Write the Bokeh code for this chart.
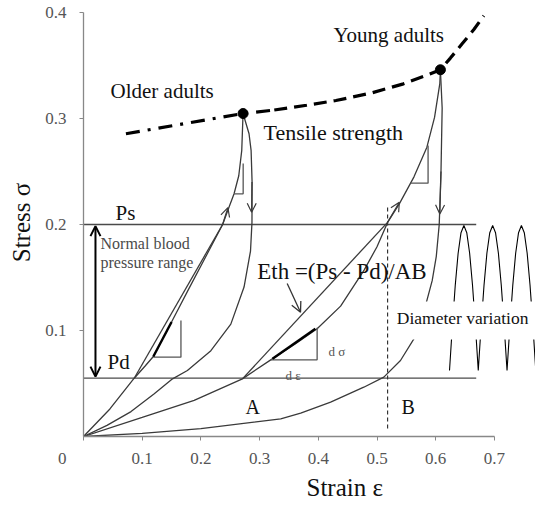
from math import pi
from bokeh.plotting import figure
from bokeh.models import Range1d, FixedTicker, Label, Arrow, OpenHead, Title
from bokeh.embed import file_html
from bokeh.resources import INLINE

# ---------------- data ----------------
x_ticks = [0.0, 0.1, 0.2, 0.3, 0.4, 0.5, 0.6, 0.7]
y_ticks = [0.1, 0.2, 0.3, 0.4]
origin_label = "0" + "\u00a0" * 10   # the origin's "0" sits left of the axis corner

ps_level = 0.2
pd_level = 0.055
level_x = [0.0, 0.669]
b_strain = 0.518
b_y = [0.0075, 0.216]

older_load_x = [0.0, 0.045, 0.0864, 0.105, 0.119, 0.15, 0.18, 0.21, 0.237, 0.248, 0.2565, 0.2645, 0.2696, 0.2718]
older_load_y = [0.0, 0.026, 0.055, 0.0665, 0.0755, 0.108, 0.14, 0.1715, 0.2, 0.2165, 0.229, 0.246, 0.27, 0.3047]
older_secant_x = [0.0864, 0.237]
older_secant_y = [0.055, 0.2]
older_unload_x = [0.2718, 0.282, 0.2855, 0.2872, 0.287, 0.2845, 0.2735, 0.251, 0.217, 0.177, 0.1517, 0.12, 0.081, 0.04, 0.0]
older_unload_y = [0.3047, 0.2856, 0.27, 0.24, 0.202, 0.175, 0.141, 0.106, 0.081, 0.0623, 0.0544, 0.04, 0.0235, 0.0105, 0.0]

young_load_x = [0.0, 0.1, 0.1885, 0.2707, 0.319, 0.36, 0.398, 0.438, 0.478, 0.5, 0.518, 0.538, 0.563, 0.585, 0.598, 0.607, 0.608]
young_load_y = [0.0, 0.018, 0.034, 0.0544, 0.0723, 0.087, 0.1016, 0.123, 0.157, 0.179, 0.202, 0.2195, 0.245, 0.273, 0.301, 0.333, 0.346]
young_secant_x = [0.2707, 0.518]
young_secant_y = [0.0544, 0.202]
young_unload_x = [0.608, 0.611, 0.609, 0.606, 0.601, 0.594, 0.58, 0.566, 0.54, 0.5116, 0.4775, 0.421, 0.37, 0.336, 0.2, 0.1, 0.0]
young_unload_y = [0.346, 0.31, 0.25, 0.2, 0.17, 0.147, 0.118, 0.095, 0.0717, 0.056, 0.0465, 0.0324, 0.022, 0.0167, 0.0075, 0.003, 0.0]

older_ts_x = [0.0723, 0.2718, 0.325]
older_ts_y = [0.2856, 0.3047, 0.308]
young_ts_x = [0.325, 0.38, 0.43, 0.49, 0.545, 0.59, 0.608, 0.625, 0.645, 0.665, 0.682]
young_ts_y = [0.308, 0.3125, 0.317, 0.324, 0.3327, 0.342, 0.346, 0.357, 0.3705, 0.384, 0.397]
tensile_x = [0.2718, 0.608]
tensile_y = [0.3047, 0.346]

# slope triangles (two legs each)
tri_older_low_x = [0.119, 0.166, 0.166]
tri_older_low_y = [0.0748, 0.0748, 0.1094]
tri_older_high_x = [0.2565, 0.272, 0.272]
tri_older_high_y = [0.229, 0.229, 0.2575]
tri_young_high_x = [0.557, 0.587, 0.587]
tri_young_high_y = [0.239, 0.239, 0.2745]
tri_young_low_x = [0.319, 0.398, 0.398]
tri_young_low_y = [0.0723, 0.0723, 0.1025]
tangent_older_x = [0.119, 0.15]
tangent_older_y = [0.0755, 0.108]
tangent_young_x = [0.322, 0.395]
tangent_young_y = [0.0733, 0.1016]

# diameter variation waveform
wave_x = [0.6235, 0.6284, 0.6333, 0.6382, 0.6431, 0.6480, 0.6529, 0.6578, 0.6627, 0.6676,
          0.6725, 0.6774, 0.6823, 0.6872, 0.6921, 0.6970, 0.7019, 0.7068, 0.7117, 0.7166,
          0.7215, 0.7264, 0.7313, 0.7362, 0.7411, 0.7460, 0.7509, 0.7558, 0.7607, 0.7656, 0.7705]
wave_y = [0.0623, 0.1045, 0.1427, 0.1729, 0.1923, 0.199, 0.1923, 0.1729, 0.1427, 0.1045,
          0.0623, 0.1045, 0.1427, 0.1729, 0.1923, 0.199, 0.1923, 0.1729, 0.1427, 0.1045,
          0.0623, 0.1045, 0.1427, 0.1729, 0.1923, 0.199, 0.1923, 0.1729, 0.1427, 0.1045, 0.0623]

# ---------------- figure ----------------
SERIF = "Liberation Serif"
CURVE = "#3a3a3a"

p = figure(frame_width=452, frame_height=428, output_backend="svg", toolbar_location=None,
           x_range=Range1d(0, 0.770), y_range=Range1d(0, 0.4038),
           min_border_left=83, min_border_right=0, min_border_top=8, min_border_bottom=70)
p.grid.visible = False
p.outline_line_color = None
p.background_fill_color = "white"

for ax, ticks in ((p.xaxis, x_ticks), (p.yaxis, y_ticks)):
    ax.ticker = FixedTicker(ticks=ticks)
    ax.axis_line_color = "#888888"
    ax.axis_line_width = 1.3
    ax.major_tick_line_color = "#888888"
    ax.major_tick_out = 4
    ax.major_tick_in = 0
    ax.minor_tick_line_color = None
    ax.major_label_text_font = SERIF
    ax.major_label_text_font_size = "17px"
    ax.major_label_text_color = "#555555"
p.xaxis.bounds = (0, 0.7)
p.yaxis.bounds = (0, 0.4)
p.xaxis.major_label_standoff = 8
p.yaxis.major_label_standoff = 13
p.xaxis.major_label_overrides = {0: origin_label}

p.add_layout(Title(text="Stress σ", align="center", offset=-13, standoff=12,
                   vertical_align="top",
                   text_font=SERIF, text_font_size="25px", text_font_style="normal",
                   text_color="#111111"), "left")
p.add_layout(Title(text="Strain ε", align="left", offset=223, standoff=2,
                   text_font=SERIF, text_font_size="25px", text_font_style="normal",
                   text_color="#111111"), "below")

# reference levels
p.line(level_x, [ps_level, ps_level], line_color="#4a4a4a", line_width=1.3)
p.line(level_x, [pd_level, pd_level], line_color="#4a4a4a", line_width=1.3)
p.line([b_strain, b_strain], b_y, line_color="#333333", line_width=1.2, line_dash="4 3")

# stress-strain curves
for xs, ys in ((older_load_x, older_load_y), (older_secant_x, older_secant_y),
               (older_unload_x, older_unload_y), (young_load_x, young_load_y),
               (young_secant_x, young_secant_y), (young_unload_x, young_unload_y)):
    p.line(xs, ys, line_color=CURVE, line_width=1.3)

for xs, ys in ((tri_older_low_x, tri_older_low_y), (tri_older_high_x, tri_older_high_y),
               (tri_young_high_x, tri_young_high_y), (tri_young_low_x, tri_young_low_y)):
    p.line(xs, ys, line_color="#555555", line_width=1.3)
p.line(tangent_older_x, tangent_older_y, line_color="black", line_width=2.4)
p.line(tangent_young_x, tangent_young_y, line_color="black", line_width=2.4)

# tensile strength
p.line(older_ts_x, older_ts_y, line_color="black", line_width=3.2, line_dash="14 8 3 8")
p.line(young_ts_x, young_ts_y, line_color="black", line_width=3.2, line_dash="13 7")
p.scatter(tensile_x, tensile_y, size=10, color="black")

# diameter waveform
p.line(wave_x, wave_y, line_color="black", line_width=1.1)

# arrows along the curves
def head(sz=9, lw=1.2, col=CURVE):
    return OpenHead(size=sz, line_width=lw, line_color=col)

for xs, ys, xe, ye in ((0.237, 0.2, 0.246, 0.216), (0.287, 0.24, 0.2864, 0.2116),
                       (0.518, 0.202, 0.538, 0.221), (0.609, 0.25, 0.607, 0.21)):
    p.add_layout(Arrow(end=head(), x_start=xs, y_start=ys, x_end=xe, y_end=ye,
                       line_color=CURVE, line_width=1.2))
p.add_layout(Arrow(end=head(10, 1.3, "#333333"), x_start=0.347, y_start=0.1443,
                   x_end=0.3697, y_end=0.1173, line_color="#333333", line_width=1.3))
p.add_layout(Arrow(start=head(10, 2, "black"), end=head(10, 2, "black"),
                   x_start=0.0204, y_start=0.0565, x_end=0.0204, y_end=0.1985,
                   line_color="black", line_width=2))

# texts
def lab(x, y, t, size, color="#111111", align="left", base="alphabetic", **kw):
    p.add_layout(Label(x=x, y=y, text=t, text_font=SERIF, text_font_size=size,
                       text_color=color, text_align=align, text_baseline=base, **kw))

lab(0.046, 0.3264, "Older adults", "21px")
lab(0.4259, 0.3792, "Young adults", "21px")
lab(0.3066, 0.2871, "Tensile strength", "22px")
lab(0.0545, 0.2104, "Ps", "21px")
lab(0.0409, 0.0701, "Pd", "21px")
lab(0.029, 0.1818, "Normal blood", "16px", color="#4a4a4a")
lab(0.029, 0.1646, "pressure range", "16px", color="#4a4a4a")
lab(0.2959, 0.1557, "Eth =(Ps - Pd)/AB", "23px")
lab(0.5303, 0.1094, "Diameter variation", "17.5px", background_fill_color="white",
    padding=dict(left=2, right=14, top=6, bottom=12))
lab(0.276, 0.0283, "A", "20px")
lab(0.5417, 0.0283, "B", "20px")
lab(0.4174, 0.0802, "d σ", "13px", color="#555555")
lab(0.3441, 0.0575, "d ε", "13px", color="#555555")

open("out.html", "w").write(file_html(p, INLINE))
